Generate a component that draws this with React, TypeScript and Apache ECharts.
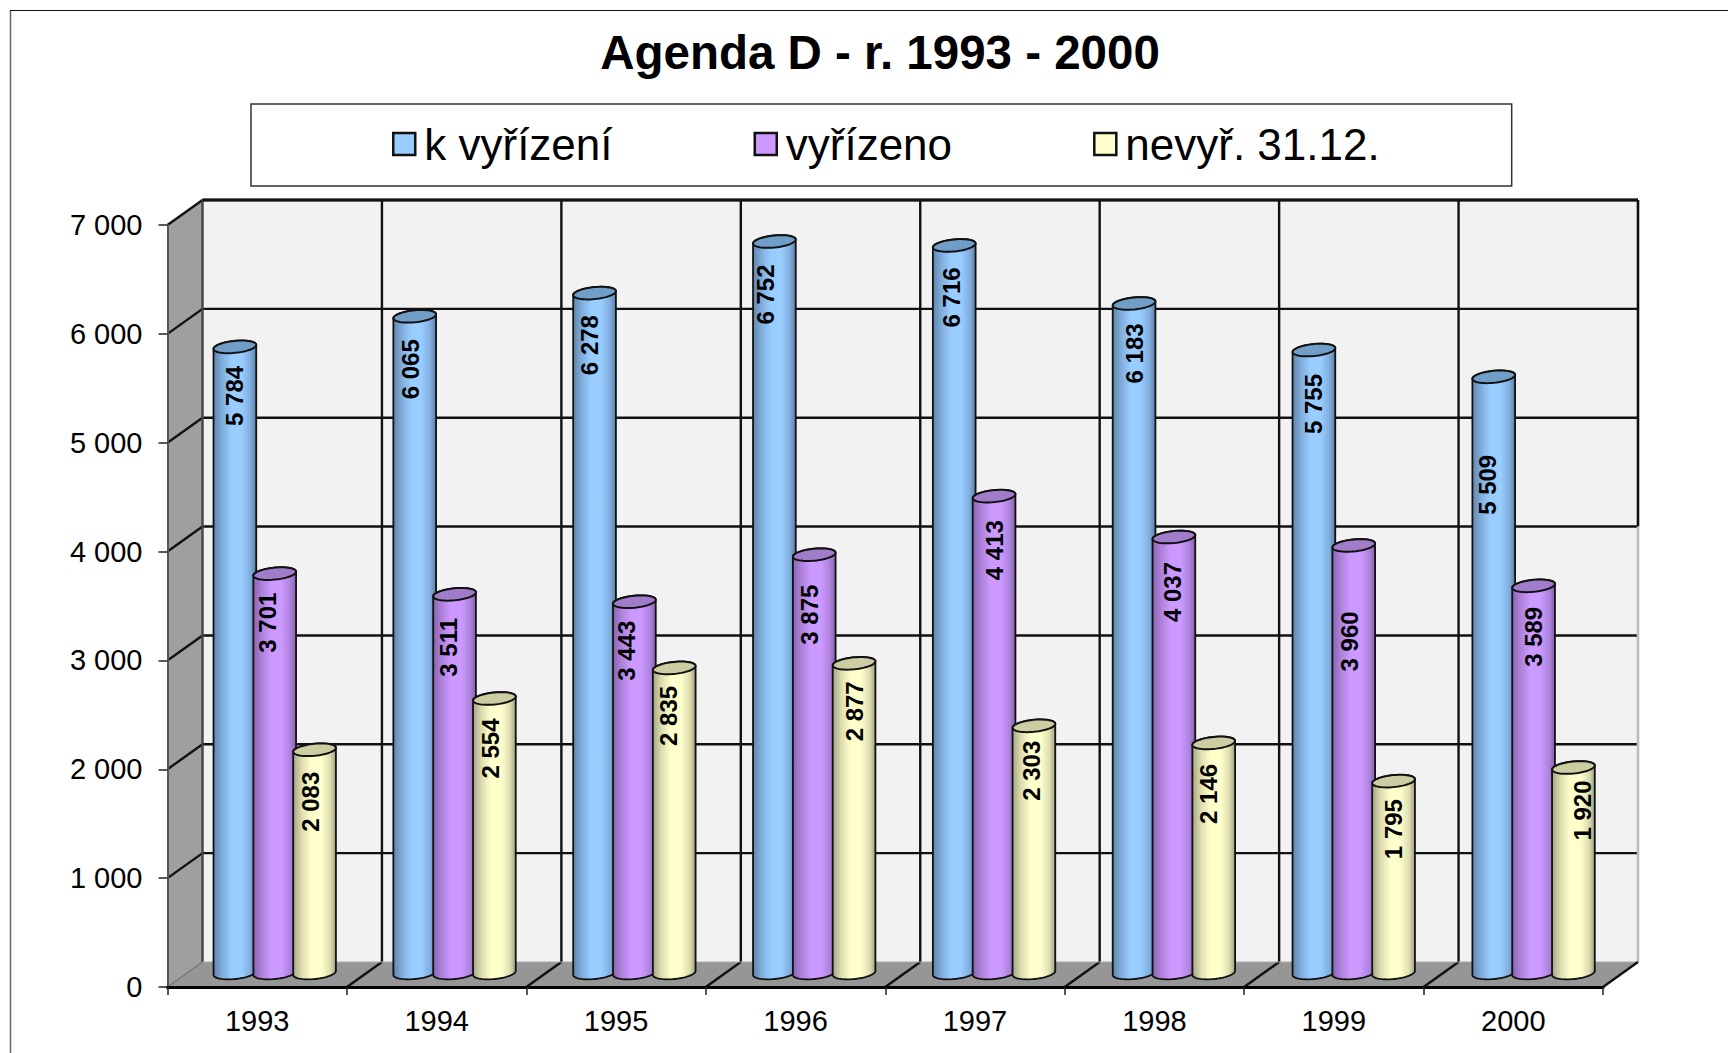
import React, { useEffect, useRef } from "react";
import * as echarts from "echarts";

const titleText = "Agenda D - r. 1993 - 2000";
const years = ["1993", "1994", "1995", "1996", "1997", "1998", "1999", "2000"];
const valueTicks = [0, 1000, 2000, 3000, 4000, 5000, 6000, 7000];
const seriesNames = ["k vyřízení", "vyřízeno", "nevyř. 31.12."];
const kVyrizeni = [5784, 6065, 6278, 6752, 6716, 6183, 5755, 5509];
const vyrizeno = [3701, 3511, 3443, 3875, 4413, 4037, 3960, 3589];
const nevyrizeno = [2083, 2554, 2835, 2877, 2303, 2146, 1795, 1920];

// Layout and styling, kept apart from the data
const FONT = '"Liberation Sans", Arial, sans-serif';
const GRID = { left: 167.5, right: 125, top: 225, bottom: 66 };
const DEPTH_X = 35;
const DEPTH_Y = 25;
const BAR_W = 0.238; // share of a category band
const BAR_STEP = 0.222;
const BAR_DRIFT = 0.4; // bars sit on a slightly wider step than the axis ticks
const RY = 6;
const TILT = 2;
const LABEL_DROP = 51;
const labelShiftX = [
  [0, -4, -5, -9, -3, 0, 0, -6],
  [-7, -6, -8, -5, 0, -1, -4, 0],
  [-4, -4, -6, 0, -2, -5, 0, 9],
];
const labelShiftY = [
  [-2, 2, 1, 2, 1, -1, 3, 57],
  [-2, 2, -2, 9, 3, 4, 45, 0],
  [1, -1, -3, -3, -6, 0, -3, -8],
];
const palettes = [
  { base: "#99ccff", mid: "#80acdb", edgeL: "#5f86ad", edgeR: "#587fa6", cap: "#719dc9" },
  { base: "#cc99ff", mid: "#ad82da", edgeL: "#8a63b3", edgeR: "#8560ab", cap: "#a07ccb" },
  { base: "#ffffcc", mid: "#dcdcb0", edgeL: "#a5a585", edgeR: "#9f9f80", cap: "#cdcda3" },
];

const fmt = (v: number) => {
  const s = String(v);
  return s.length > 3 ? s.slice(0, -3) + " " + s.slice(-3) : s;
};

// outline of a tilted ellipse, from angle a to angle b (0 = right end, PI/2 = front)
function arcPoints(cx: number, cy: number, rx: number, a: number, b: number, steps = 28) {
  const pts: number[][] = [];
  for (let k = 0; k <= steps; k++) {
    const t = a + ((b - a) * k) / steps;
    pts.push([cx + rx * Math.cos(t), cy + RY * Math.sin(t) - TILT * Math.cos(t)]);
  }
  return pts;
}

function cylinder(seriesIndex: number) {
  return (_params: any, api: any) => {
    const i = api.value(0);
    const v = api.value(1);
    const band = api.size([1, 0])[0];
    const p = api.coord([i, v]);
    const p0 = api.coord([i, 0]);
    const w = band * BAR_W;
    const rx = w / 2;
    const cx = p[0] + DEPTH_X / 2 + (seriesIndex - 1) * band * BAR_STEP + i * BAR_DRIFT;
    const yTop = p[1] - DEPTH_Y / 2 + 2;
    const yBot = p0[1] - DEPTH_Y / 2 - 1.5;
    const pal = palettes[seriesIndex];
    const body = [
      ...arcPoints(cx, yBot, rx, 0, Math.PI),
      ...arcPoints(cx, yTop, rx, Math.PI, 2 * Math.PI),
    ];
    const cap = arcPoints(cx, yTop, rx, 0, 2 * Math.PI, 56);
    return {
      type: "group",
      children: [
        {
          type: "polygon",
          shape: { points: body },
          style: {
            fill: new echarts.graphic.LinearGradient(0, 0, 1, 0, [
              { offset: 0, color: pal.edgeL },
              { offset: 0.2, color: pal.mid },
              { offset: 0.42, color: pal.base },
              { offset: 0.66, color: pal.base },
              { offset: 0.87, color: pal.mid },
              { offset: 1, color: pal.edgeR },
            ]),
            stroke: "#111",
            lineWidth: 1.8,
          },
        },
        {
          type: "polygon",
          shape: { points: cap },
          style: { fill: pal.cap, stroke: "#111", lineWidth: 2 },
        },
        {
          type: "text",
          x: cx + labelShiftX[seriesIndex][i],
          y: yTop + LABEL_DROP + labelShiftY[seriesIndex][i],
          rotation: Math.PI / 2,
          style: {
            text: fmt(v),
            fontSize: 24,
            fontWeight: "bold",
            fontFamily: FONT,
            fill: "#000",
            align: "center",
            verticalAlign: "middle",
          },
        },
      ],
    };
  };
}

function walls(_params: any, api: any) {
  const band = api.size([1, 0])[0];
  const left = api.coord([0, 0])[0] - band / 2;
  const right = api.coord([years.length - 1, 0])[0] + band / 2;
  const maxV = valueTicks[valueTicks.length - 1];
  const yBot = api.coord([0, 0])[1];
  const yTop = api.coord([0, maxV])[1];
  const yFade = api.coord([0, 4000])[1] - DEPTH_Y;
  const bl = left + DEPTH_X;
  const br = right + DEPTH_X;
  const bt = yTop - DEPTH_Y;
  const bb = yBot - DEPTH_Y;
  const line = (x1: number, y1: number, x2: number, y2: number, stroke = "#111", lineWidth = 2.4) => ({
    type: "line",
    shape: { x1, y1, x2, y2 },
    style: { stroke, lineWidth },
  });
  const children: any[] = [
    { type: "rect", shape: { x: bl, y: bt, width: br - bl, height: bb - bt }, style: { fill: "#f2f2f2" } },
    {
      type: "polygon",
      shape: { points: [[left, yTop], [bl, bt], [bl, bb], [left, yBot]] },
      style: { fill: "#9f9f9f" },
    },
    {
      type: "polygon",
      shape: { points: [[left, yBot], [bl, bb], [br, bb], [right, yBot]] },
      style: { fill: "#969696" },
    },
  ];
  valueTicks.forEach((t) => {
    if (t === 0) return;
    const y = api.coord([0, t])[1];
    children.push(line(bl, y - DEPTH_Y, br, y - DEPTH_Y));
    children.push(line(left, y, bl, y - DEPTH_Y));
  });
  years.forEach((_, i) => {
    const x = left + i * band;
    if (i > 0) {
      children.push(line(x + DEPTH_X, bt, x + DEPTH_X, bb));
      children.push(line(x, yBot, x + DEPTH_X, bb));
    }
  });
  children.push(line(left, yBot, bl, bb, "#777", 1.5));
  children.push(line(bl, bt, bl, bb, "#444", 2.4));
  children.push(line(bl, bb, br, bb, "#aaa", 1));
  children.push(line(br, bt, br, yFade, "#111", 2.6));
  children.push(line(br, yFade, br, bb, "#bbb", 2.6));
  children.push(line(right, yBot, br, bb, "#111", 2.4));
  children.push(line(bl, bt, br, bt, "#111", 2.8));
  return { type: "group", children };
}

export default function App() {
  const ref = useRef<HTMLDivElement>(null);
  useEffect(() => {
    const chart = echarts.init(ref.current!, null, { renderer: "svg" });
    const allValues = [kVyrizeni, vyrizeno, nevyrizeno];
    chart.setOption({
      animation: false,
      backgroundColor: "#fff",
      title: {
        text: titleText,
        left: 875,
        top: 23,
        textAlign: "center",
        textStyle: { fontFamily: FONT, fontSize: 47.5, fontWeight: "bold", color: "#000" },
      },
      legend: {
        left: 251,
        top: 104,
        selectedMode: false,
        orient: "horizontal",
        itemGap: 141,
        itemWidth: 22,
        itemHeight: 22,
        icon: "rect",
        padding: [18, 132, 20, 141],
        borderColor: "#333",
        borderWidth: 1.5,
        backgroundColor: "#fff",
        textStyle: { fontFamily: FONT, fontSize: 44, color: "#000", padding: [0, 0, 0, 4] },
        data: seriesNames.map((name, i) => ({
          name,
          itemStyle: { color: palettes[i].base, borderColor: "#111", borderWidth: 2.5 },
        })),
      },
      grid: { ...GRID, containLabel: false },
      xAxis: {
        type: "category",
        data: years,
        z: 5,
        axisLine: { show: true, lineStyle: { color: "#000", width: 3 } },
        axisTick: { show: true, length: 8, lineStyle: { color: "#222", width: 1.5 } },
        axisLabel: { fontFamily: FONT, fontSize: 29, color: "#000", margin: 19 },
        splitLine: { show: false },
      },
      yAxis: {
        type: "value",
        min: 0,
        max: 7000,
        interval: 1000,
        z: 5,
        axisLine: { show: true, lineStyle: { color: "#555", width: 2 } },
        axisTick: { show: true, length: 9, lineStyle: { color: "#222", width: 1.5 } },
        axisLabel: { fontFamily: FONT, fontSize: 29, color: "#000", margin: 25, formatter: (v: number) => fmt(v) },
        splitLine: { show: false },
      },
      graphic: [
        {
          type: "polyline",
          shape: { points: [[10.5, 1053], [10.5, 10.5]] },
          style: { stroke: "#666", lineWidth: 1.5, fill: "none" },
        },
        {
          type: "polyline",
          shape: { points: [[10, 10.5], [1728, 10.5]] },
          style: { stroke: "#111", lineWidth: 1.2, fill: "none" },
        },
      ],
      series: [
        {
          type: "custom",
          name: "walls",
          z: 1,
          clip: false,
          silent: true,
          renderItem: walls,
          data: [[0, 0]],
          encode: { x: 0, y: 1 },
        },
        ...seriesNames.map((name, s) => ({
          type: "custom",
          name,
          z: 2 + s,
          clip: false,
          silent: true,
          itemStyle: { color: palettes[s].base },
          renderItem: cylinder(s),
          data: allValues[s].map((v, i) => [i, v]),
          encode: { x: 0, y: 1 },
        })),
      ],
    });
    return () => chart.dispose();
  }, []);
  return (
    <div
      ref={ref}
      style={{ position: "absolute", left: 0, top: 0, width: 1728, height: 1053, overflow: "hidden" }}
    />
  );
}
